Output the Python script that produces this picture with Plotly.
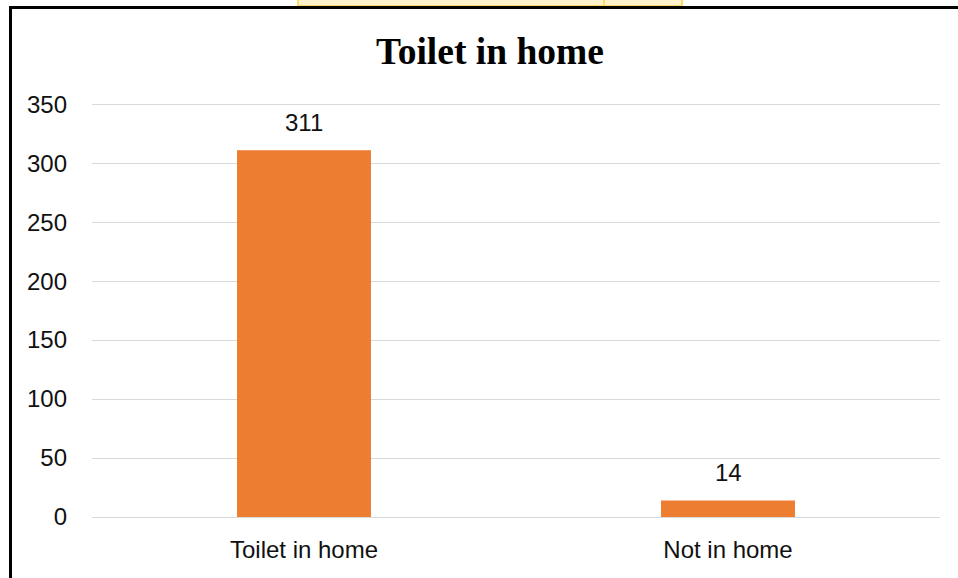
import plotly.graph_objects as go

categories = ["Toilet in home", "Not in home"]
values = [311, 14]
title_text = "Toilet in home"
y_ticks = [0, 50, 100, 150, 200, 250, 300, 350]

W, H = 958, 578
L, R, T, B = 92, 18, 103, 61
pw = W - L - R
ph = H - T - B

def px_x(px):
    return (px - L) / pw

def px_y(py):
    return (H - B - py) / ph

fig = go.Figure()
fig.add_trace(go.Bar(
    x=categories, y=values,
    marker=dict(color="#ED7D31", line=dict(width=0)),
    hoverinfo="x+y",
))

for c, v in zip(categories, values):
    fig.add_annotation(
        x=c, y=v, text=str(v), showarrow=False,
        yanchor="bottom", yshift=12,
        font=dict(family="Liberation Sans", size=24, color="#111111"),
    )

shapes = []
# yellow box at top (cell fragment)
shapes.append(dict(type="rect", xref="paper", yref="paper",
                   x0=px_x(298), x1=px_x(682), y0=px_y(6), y1=px_y(-5),
                   fillcolor="#FFF2CC", line=dict(color="#FFD966", width=2), layer="below"))
shapes.append(dict(type="line", xref="paper", yref="paper",
                   x0=px_x(604), x1=px_x(604), y0=px_y(6), y1=px_y(-5),
                   line=dict(color="#FFD966", width=2)))
# chart frame
shapes.append(dict(type="line", xref="paper", yref="paper",
                   x0=px_x(9), x1=px_x(960), y0=px_y(7.5), y1=px_y(7.5),
                   line=dict(color="#000000", width=3)))
shapes.append(dict(type="line", xref="paper", yref="paper",
                   x0=px_x(10.5), x1=px_x(10.5), y0=px_y(6), y1=px_y(580),
                   line=dict(color="#000000", width=3)))

fig.update_layout(
    width=W, height=H,
    margin=dict(l=L, r=R, t=T, b=B, pad=0),
    paper_bgcolor="white", plot_bgcolor="white",
    bargap=0.684,
    showlegend=False,
    shapes=shapes,
    title=dict(text="<b>" + title_text + "</b>", x=490 / W, xanchor="center",
               xref="container", yref="container", y=1 - 51 / H, yanchor="middle",
               font=dict(family="Liberation Serif", size=37.5, color="#000000")),
    font=dict(family="Liberation Sans", size=24, color="#111111"),
    xaxis=dict(showgrid=False, showline=False, ticks="", zeroline=False,
               ticklabelstandoff=16,
               tickfont=dict(family="Liberation Sans", size=24, color="#111111")),
    yaxis=dict(range=[0, 351], tickvals=y_ticks, showgrid=True, gridcolor="#D9D9D9",
               gridwidth=1, zeroline=True, zerolinecolor="#D9D9D9", zerolinewidth=1,
               showline=False, ticks="", ticklabelstandoff=24,
               tickfont=dict(family="Liberation Sans", size=24, color="#111111")),
)

fig.write_html("out.html",
               config={"displayModeBar": False},
               post_script="document.body.style.margin='0';document.body.style.overflow='hidden';")
